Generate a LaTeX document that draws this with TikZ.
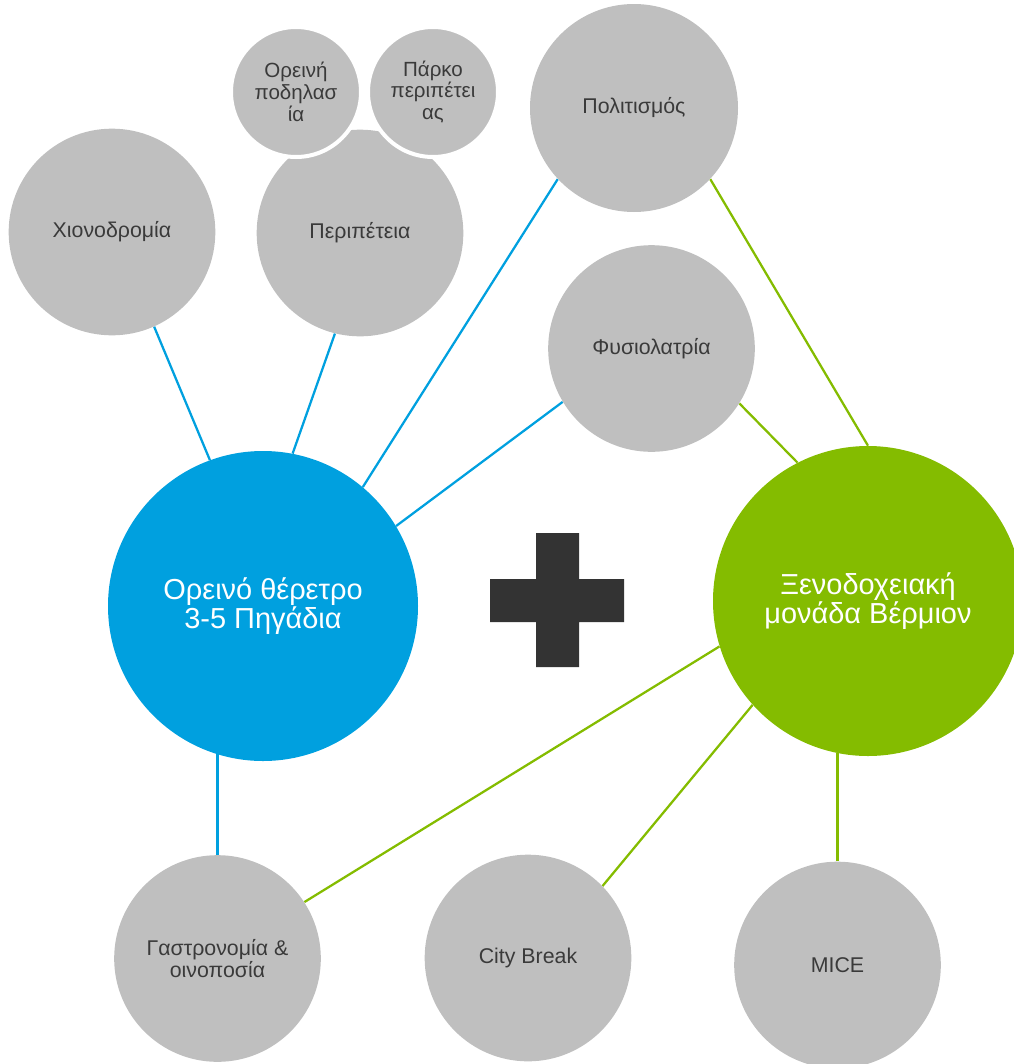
\documentclass[tikz,border=0pt]{standalone}
\usepackage{fontspec}
\setmainfont{Liberation Sans}
\usetikzlibrary{backgrounds}
\definecolor{cgray}{HTML}{BFBFBF}
\definecolor{ctext}{HTML}{3A3A3A}
\definecolor{cblue}{HTML}{00A0DF}
\definecolor{cgreen}{HTML}{84BC00}
\definecolor{cdark}{HTML}{333333}
\tikzset{
  topic/.style={circle, fill=cgray, inner sep=0pt, text=ctext, align=center,
    font=\fontsize{16}{16.8}\selectfont, minimum size=#1},
  subtopic/.style={topic=97.5pt, draw=white, line width=3pt,
    font=\fontsize{15.4}{16.3}\selectfont},
  hub/.style={circle, inner sep=0pt, text=white, align=center,
    font=\fontsize{21.7}{20.5}\selectfont, minimum size=232.5pt},
  bluelink/.style={draw=cblue, line width=1.7pt},
  greenlink/.style={draw=cgreen, line width=1.7pt},
}
\begin{document}
\begin{tikzpicture}[x=0.75pt,y=-0.75pt]
\useasboundingbox (0,0) rectangle (1014,1064);
\clip (0,0) rectangle (1014,1064);

% hubs
\node[hub, fill=cblue] (blue) at (263,606) {Ορεινό θέρετρο\\3-5 Πηγάδια};
\node[hub, fill=cgreen] (green) at (868,601) {Ξενοδοχειακή\\μονάδα Βέρμιον};

% topics
\node[topic=155pt] (ski) at (112,232) {Χιονοδρομία};
\node[topic=155pt] (adv) at (360,233) {Περιπέτεια};
\node[subtopic] (bike) at (296,92) {Ορεινή\\ποδηλασ\\ία};
\node[subtopic] (park) at (433,92) {Πάρκο\\περιπέτει\\ας};
\node[topic=156pt] (cult) at (634,108) {Πολιτισμός};
\node[topic=155pt] (nat) at (651.5,348.5) {Φυσιολατρία};
\node[topic=155pt] (gastro) at (217.5,958.5) {Γαστρονομία \&\\οινοποσία};
\node[topic=155pt] (city) at (528,958) {City Break};
\node[topic=155pt] (mice) at (837.5,965) {MICE};

% plus sign
\fill[cdark] (536,533) -- (579,533) -- (579,579) -- (624,579) -- (624,622)
  -- (579,622) -- (579,667) -- (536,667) -- (536,622) -- (490,622)
  -- (490,579) -- (536,579) -- cycle;

% connectors
\begin{pgfonlayer}{background}
\draw[bluelink] (ski.-66) -- (blue.110);
\draw[bluelink] (adv.256.5) -- (blue.79.4);
\draw[bluelink] (cult.223.1) -- (blue.50.2);
\draw[bluelink] (nat.211) -- (blue.31.8);
\draw[bluelink] (gastro.north) -- (gastro.north |- blue.253.2);
\draw[greenlink] (cult.-43.1) -- (green.90);
\draw[greenlink] (nat.-32.6) -- (green.117.4);
\draw[greenlink] (green.197.8) -- (gastro.33.9);
\draw[greenlink] (green.222.1) -- (city.44.6);
\draw[greenlink] (mice.north) -- (mice.north |- green.258.5);
\end{pgfonlayer}
\end{tikzpicture}
\end{document}
